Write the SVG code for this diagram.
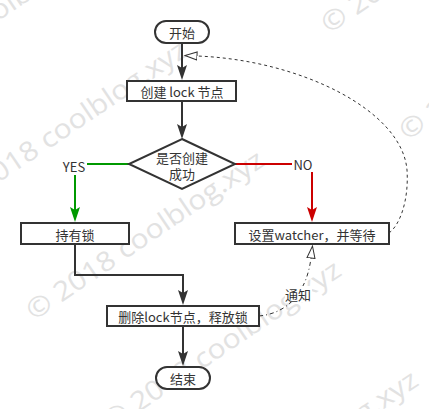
<svg xmlns="http://www.w3.org/2000/svg" width="429" height="409" viewBox="0 0 429 409">
<style>
.wm{font-family:"Open Sans","Noto Sans",sans-serif;font-size:27px;fill:#e2e2e2}
.box{fill:#fff;stroke:#333;stroke-width:2}
.t{font-family:"Noto Sans CJK SC","Noto Sans",sans-serif;font-size:13px;fill:#333;text-anchor:middle;dominant-baseline:central}
.ln{fill:none;stroke-width:2}
.bg{fill:#fff}
</style>
<defs>
<marker id="aDark" markerUnits="userSpaceOnUse" markerWidth="16" markerHeight="10" refX="10" refY="5" orient="auto" viewBox="0 0 16 10">
<path d="M0,0 L15,5 L0,10 L3,5 Z" fill="#333"/>
</marker>
<marker id="aGreen" markerUnits="userSpaceOnUse" markerWidth="16" markerHeight="10" refX="10" refY="5" orient="auto" viewBox="0 0 16 10">
<path d="M0,0 L15,5 L0,10 L3,5 Z" fill="#009900"/>
</marker>
<marker id="aRed" markerUnits="userSpaceOnUse" markerWidth="16" markerHeight="10" refX="10" refY="5" orient="auto" viewBox="0 0 16 10">
<path d="M0,0 L15,5 L0,10 L3,5 Z" fill="#cc0000"/>
</marker>
<marker id="aOpen" markerUnits="userSpaceOnUse" markerWidth="14" markerHeight="10" refX="0.5" refY="5" orient="auto" viewBox="0 0 14 10">
<path d="M0.5,1 L12.5,5 L0.5,9 Z" fill="#fff" stroke="#333" stroke-width="1"/>
</marker>
</defs>

<g id="watermark">
<text class="wm" x="-120" y="101" transform="rotate(-34 -120 101)" textLength="280" lengthAdjust="spacingAndGlyphs">© 2018 coolblog.xyz</text>
<text class="wm" x="-43" y="211" transform="rotate(-34 -43 211)" textLength="280" lengthAdjust="spacingAndGlyphs">© 2018 coolblog.xyz</text>
<text class="wm" x="34" y="321" transform="rotate(-34 34 321)" textLength="280" lengthAdjust="spacingAndGlyphs">© 2018 coolblog.xyz</text>
<text class="wm" x="111" y="431" transform="rotate(-34 111 431)" textLength="280" lengthAdjust="spacingAndGlyphs">© 2018 coolblog.xyz</text>
<text class="wm" x="188" y="541" transform="rotate(-34 188 541)" textLength="280" lengthAdjust="spacingAndGlyphs">© 2018 coolblog.xyz</text>
<text class="wm" x="329" y="34" transform="rotate(-34 329 34)" textLength="280" lengthAdjust="spacingAndGlyphs">© 2018 coolblog.xyz</text>
<text class="wm" x="407" y="141" transform="rotate(-34 407 141)" textLength="280" lengthAdjust="spacingAndGlyphs">© 2018 coolblog.xyz</text>
</g>

<g id="connectors">
<path class="ln" d="M182,43 V75" stroke="#333" marker-end="url(#aDark)"/>
<path class="ln" d="M182,101 V134" stroke="#333" marker-end="url(#aDark)"/>
<path class="ln" d="M129,164 H75 V217" stroke="#009900" marker-end="url(#aGreen)"/>
<path class="ln" d="M235,164 H312 V217" stroke="#cc0000" marker-end="url(#aRed)"/>
<path class="ln" d="M75,244 V275 H183 V300" stroke="#333" marker-end="url(#aDark)"/>
<path class="ln" d="M183,326 V361" stroke="#333" marker-end="url(#aDark)"/>
<path d="M389,233 C400,225 409,200 407,170 C402,110 300,60 197,56" fill="none" stroke="#333" stroke-width="1" stroke-dasharray="3 3" marker-end="url(#aOpen)"/>
<path d="M259,316 C290,313 307,290 311,258" fill="none" stroke="#333" stroke-width="1" stroke-dasharray="4 3 1 3" marker-end="url(#aOpen)"/>
<rect class="bg" x="62" y="157" width="25" height="18"/>
<text class="t" x="74" y="166">YES</text>
<rect class="bg" x="292" y="156" width="22" height="16"/>
<text class="t" x="303" y="164">NO</text>
<rect class="bg" x="285" y="286" width="27" height="16"/>
<text class="t" x="298" y="294">通知</text>
</g>

<g id="start">
<rect class="box" x="155" y="21" width="54" height="22" rx="11" ry="11"/>
<text class="t" x="182" y="32">开始</text>
</g>
<g id="create">
<rect class="box" x="127" y="81" width="109" height="20"/>
<text class="t" x="182" y="91">创建 lock 节点</text>
</g>
<g id="decision">
<polygon class="box" points="182,139 235,164 182,189 129,164"/>
<text class="t" x="182" y="157"><tspan x="182" y="157">是否创建</tspan><tspan x="182" y="173">成功</tspan></text>
</g>
<g id="hold">
<rect class="box" x="21" y="223" width="108" height="21"/>
<text class="t" x="75" y="234">持有锁</text>
</g>
<g id="watch">
<rect class="box" x="235" y="223" width="154" height="21"/>
<text class="t" x="312" y="234">设置watcher，并等待</text>
</g>
<g id="release">
<rect class="box" x="107" y="306" width="152" height="20"/>
<text class="t" x="183" y="316">删除lock节点，释放锁</text>
</g>
<g id="end">
<rect class="box" x="156" y="367" width="54" height="22" rx="11" ry="11"/>
<text class="t" x="183" y="378">结束</text>
</g>
</svg>
